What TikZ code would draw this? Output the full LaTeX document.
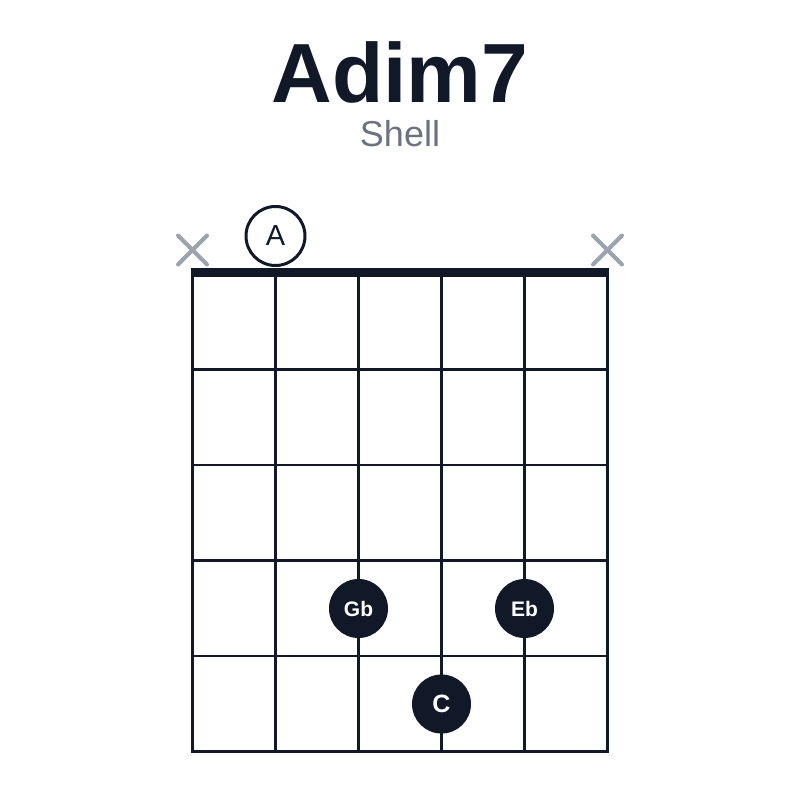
\documentclass[tikz,border=0pt]{standalone}
\usepackage{fontspec}
\setmainfont{Liberation Sans}
\usetikzlibrary{positioning}
\definecolor{chordnavy}{HTML}{111827}
\definecolor{chordmute}{HTML}{9CA3AF}
\definecolor{chordsub}{HTML}{6B7280}
\tikzstyle{stringline} = [line width=2.8pt, color=chordnavy]
\tikzstyle{nutline} = [line width=9pt, color=chordnavy]
\tikzstyle{mute} = [line width=4pt, color=chordmute, line cap=round]
\tikzstyle{finger} = [circle, minimum size=59pt, inner sep=0pt, fill=chordnavy, text=white, font=\fontsize{21}{21}\selectfont\bfseries]
\tikzstyle{opennote} = [circle, minimum size=59pt, inner sep=0pt, draw=chordnavy, line width=3pt, fill=white, text=chordnavy, font=\fontsize{29}{29}\selectfont]

\begin{document}
\begin{tikzpicture}[x=1pt, y=-1pt]
\useasboundingbox[fill=white] (0,0) rectangle (800,800);

% Title
\node[anchor=base, text=chordnavy, font=\fontsize{84}{84}\selectfont\bfseries] (title) at (400,102) {Adim7};
\node[anchor=base, text=chordsub, font=\fontsize{36}{36}\selectfont] (subtitle) at (400,146) {Shell};

% Frets
\draw[stringline] (191,369.5) -- (609,369.5);
\draw[stringline] (191,465) -- (609,465);
\draw[stringline] (191,560.5) -- (609,560.5);
\draw[stringline] (191,656) -- (609,656);
\draw[stringline] (191,751.5) -- (609,751.5);

% Strings
\draw[stringline] (192.5,272) -- (192.5,753);
\draw[stringline] (275.5,272) -- (275.5,753);
\draw[stringline] (358.5,272) -- (358.5,753);
\draw[stringline] (441.5,272) -- (441.5,753);
\draw[stringline] (524.5,272) -- (524.5,753);
\draw[stringline] (607.5,272) -- (607.5,753);

% Nut
\draw[nutline] (191,272.5) -- (609,272.5);

% Muted strings
\draw[mute] (178,235.5) -- (207,264.5) (178,264.5) -- (207,235.5);
\draw[mute] (593,235.5) -- (622,264.5) (593,264.5) -- (622,235.5);

% Open string
\node[opennote] (openA) at (275.5,236) {A};

% Fingers
\node[finger] (gb) at (358.5,608.5) {Gb};
\node[finger] (eb) at (524.5,608.5) {Eb};
\node[finger, font=\fontsize{25}{25}\selectfont\bfseries] (c) at (441.5,704) {C};
\end{tikzpicture}
\end{document}
